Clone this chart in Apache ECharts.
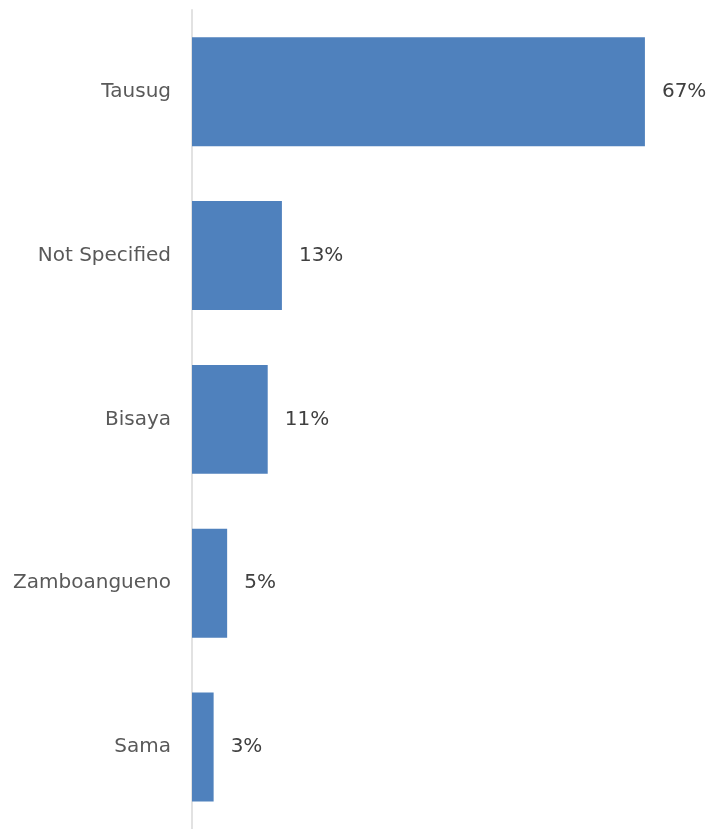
<!DOCTYPE html>
<html>
<head>
<meta charset="utf-8">
<script src="https://cdn.jsdelivr.net/npm/echarts@6/dist/echarts.min.js"></script>
<style>
html,body{margin:0;padding:0;background:#fff;}
#chart{width:710px;height:829px;}
</style>
</head>
<body>
<div id="chart"></div>
<script>
var categories = ['Tausug', 'Not Specified', 'Bisaya', 'Zamboangueno', 'Sama'];
var values = [67, 13.3, 11.2, 5.2, 3.2];

var chart = echarts.init(document.getElementById('chart'));
chart.setOption({
  animation: false,
  grid: { left: 192, top: 9.75, width: 507, bottom: -3.25, containLabel: false },
  xAxis: {
    type: 'value', min: 0, max: 75,
    show: false
  },
  yAxis: {
    type: 'category',
    data: categories,
    inverse: true,
    axisLine: { show: true, lineStyle: { color: '#d9d9d9', width: 1.5 } },
    axisTick: { show: false },
    axisLabel: {
      margin: 21,
      fontFamily: 'DejaVu Sans, sans-serif',
      fontSize: 20,
      color: '#595959'
    }
  },
  series: [{
    type: 'bar',
    data: values,
    barCategoryGap: '33.5%',
    itemStyle: { color: '#4f81bd' },
    label: {
      show: true,
      position: 'right',
      distance: 17,
      fontFamily: 'DejaVu Sans, sans-serif',
      fontSize: 20,
      color: '#404040',
      formatter: function (p) { return Math.round(p.value) + '%'; }
    }
  }]
});
</script>
</body>
</html>
